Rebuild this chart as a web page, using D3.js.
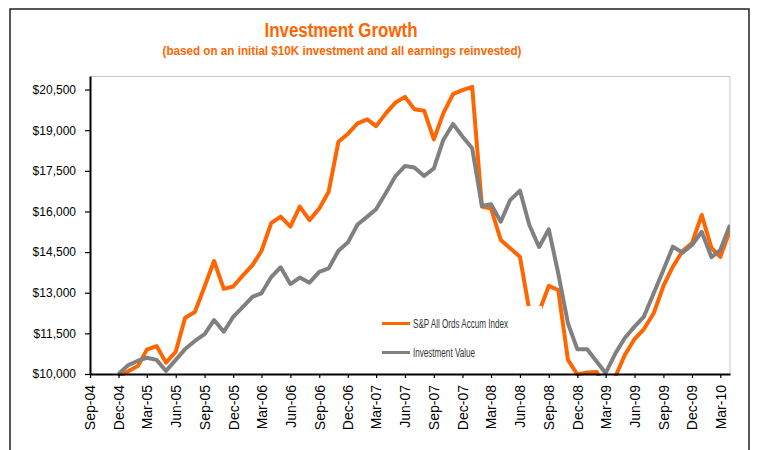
<!DOCTYPE html>
<html>
<head>
<meta charset="utf-8">
<script src="https://cdn.jsdelivr.net/npm/d3@7"></script>
<style>
  body { margin: 0; background: #fff; }
  svg { display: block; }
</style>
</head>
<body>
<svg id="chart" width="760" height="450"></svg>
<script>
// Monthly values, Dec-04 .. Apr-10
const firstMonth = "Dec-04";

const spAccum = [
  9900, 10100, 10300, 10900, 11030, 10420, 10820, 12080, 12290, 13230, 14170, 13140,
  13230, 13640, 14030, 14540, 15570, 15810, 15440, 16180, 15680, 16110, 16730, 18570,
  18860, 19250, 19400, 19150, 19620, 20010, 20230, 19770, 19720, 18660, 19620, 20330,
  20480, 20600, 16180, 16110, 14950, 14640, 14330, 12350, 12300, 13250, 13100, 10520,
  9980, 10060, 10070, 9400, 9900, 10700, 11290, 11660, 12240, 13250, 13960, 14540,
  14830, 15870, 14650, 14320, 15310
];

const investValue = [
  10000, 10330, 10490, 10600, 10520, 10110, 10520, 10920, 11220, 11470, 11990, 11560,
  12110, 12480, 12860, 12980, 13580, 13940, 13320, 13560, 13370, 13770, 13900, 14550,
  14850, 15520, 15810, 16080, 16680, 17290, 17680, 17620, 17310, 17590, 18640, 19230,
  18770, 18330, 16200, 16270, 15620, 16420, 16770, 15500, 14690, 15340, 13720, 11870,
  10910, 10910, 10450, 10030, 10760, 11330, 11750, 12120, 12980, 13840, 14700, 14480,
  14760, 15250, 14310, 14580, 15500
];

const seriesNames = ["S&P All Ords Accum Index", "Investment Value"];
const seriesColours = ["#ff6600", "#808080"];

const xTickLabels = [
  "Sep-04", "Dec-04", "Mar-05", "Jun-05", "Sep-05", "Dec-05", "Mar-06", "Jun-06",
  "Sep-06", "Dec-06", "Mar-07", "Jun-07", "Sep-07", "Dec-07", "Mar-08", "Jun-08",
  "Sep-08", "Dec-08", "Mar-09", "Jun-09", "Sep-09", "Dec-09", "Mar-10"
];
const xDomainLabels = ["Sep-04", "Apr-10"];

const yTicks = [10000, 11500, 13000, 14500, 16000, 17500, 19000, 20500];
const yDomain = [10000, 21000];

// Narrow look: no condensed font installed, so squeeze regular Arial-like text
const narrowFont = "'Liberation Sans', Arial, sans-serif";

class growthChart {
  constructor(_config) {
    this.config = {
      parentElement: _config.parentElement,
      containerWidth: _config.containerWidth || 760,
      containerHeight: _config.containerHeight || 450,
      margin: _config.margin || { top: 76, bottom: 76, right: 30, left: 90 }
    }
  }

  initVis() {
    let vis = this;
    const parseMonth = d3.timeParse("%b-%y");

    vis.width = vis.config.containerWidth - vis.config.margin.left - vis.config.margin.right;
    vis.height = vis.config.containerHeight - vis.config.margin.top - vis.config.margin.bottom;

    vis.svg = d3.select(vis.config.parentElement);

    // Outer chart frame
    vis.svg.append("rect")
      .attr("x", 10).attr("y", 9)
      .attr("width", 739).attr("height", 470)
      .attr("fill", "#fff")
      .attr("stroke", "#222")
      .attr("stroke-width", 1.5);

    // Titles
    vis.svg.append("text")
      .attr("x", 341).attr("y", 36.5)
      .attr("text-anchor", "middle")
      .attr("font-family", narrowFont)
      .attr("font-weight", "bold")
      .attr("font-size", 21)
      .attr("textLength", 153)
      .attr("lengthAdjust", "spacingAndGlyphs")
      .attr("fill", "#ff6600")
      .text("Investment Growth");

    vis.svg.append("text")
      .attr("x", 342).attr("y", 55)
      .attr("text-anchor", "middle")
      .attr("font-family", narrowFont)
      .attr("font-weight", "bold")
      .attr("font-size", 13.5)
      .attr("textLength", 359)
      .attr("lengthAdjust", "spacingAndGlyphs")
      .attr("fill", "#ff6600")
      .text("(based on an initial $10K investment and all earnings reinvested)");

    vis.chart = vis.svg.append("g")
      .attr("transform", `translate(${vis.config.margin.left},${vis.config.margin.top})`);

    // Plot area border (top and right in light grey)
    vis.chart.append("path")
      .attr("d", `M0,0.5H${vis.width}V${vis.height}`)
      .attr("fill", "none")
      .attr("stroke", "#c8c8c8")
      .attr("stroke-width", 1);

    vis.xScale = d3.scaleTime()
      .domain(xDomainLabels.map(parseMonth))
      .range([0, vis.width]);

    vis.yScale = d3.scaleLinear()
      .domain(yDomain)
      .range([vis.height, 0]);

    // Dates for each data point
    vis.dates = d3.timeMonth.range(parseMonth(firstMonth), d3.timeMonth.offset(parseMonth(firstMonth), spAccum.length));
    vis.series = [spAccum, investValue].map((values, i) => ({
      name: seriesNames[i],
      colour: seriesColours[i],
      textLength: i === 0 ? 95 : 62,
      values: values.map((v, j) => ({ date: vis.dates[j], value: v }))
    }));

    vis.chart.append("clipPath")
      .attr("id", "plotClip")
      .append("rect")
      .attr("x", 0).attr("y", 0)
      .attr("width", vis.width).attr("height", vis.height + 2);

    vis.line = d3.line()
      .x(d => vis.xScale(d.date))
      .y(d => vis.yScale(d.value));

    vis.chart.append("g")
      .attr("clip-path", "url(#plotClip)")
      .selectAll("path.line")
      .data(vis.series)
      .join("path")
        .attr("class", "line")
        .attr("fill", "none")
        .attr("stroke", d => d.colour)
        .attr("stroke-width", 4)
        .attr("stroke-linejoin", "round")
        .attr("d", d => vis.line(d.values));

    // Legend sits on a white box over the lines
    vis.legend = vis.svg.append("g");
    vis.legend.append("rect")
      .attr("x", 374).attr("y", 306)
      .attr("width", 168).attr("height", 62)
      .attr("fill", "#fff");

    const legendItem = vis.legend.selectAll("g.item")
      .data(vis.series)
      .join("g")
        .attr("class", "item")
        .attr("transform", (d, i) => `translate(382,${323.5 + i * 29})`);

    legendItem.append("line")
      .attr("x1", 0).attr("x2", 28)
      .attr("stroke", d => d.colour)
      .attr("stroke-width", 3);

    legendItem.append("text")
      .attr("x", 31).attr("dy", "0.35em")
      .attr("font-family", narrowFont)
      .attr("font-size", 12)
      .attr("textLength", d => d.textLength)
      .attr("lengthAdjust", "spacingAndGlyphs")
      .attr("fill", "#333")
      .text(d => d.name);

    // Axes
    vis.yAxis = d3.axisLeft(vis.yScale)
      .tickValues(yTicks)
      .tickSize(5)
      .tickSizeOuter(0)
      .tickPadding(9)
      .tickFormat(d => "$" + d3.format(",")(d));

    vis.xAxis = d3.axisBottom(vis.xScale)
      .tickValues(xTickLabels.map(parseMonth))
      .tickSize(4)
      .tickSizeOuter(0)
      .tickFormat(d3.timeFormat("%b-%y"));

    vis.yAxisG = vis.chart.append("g")
      .call(vis.yAxis);

    vis.xAxisG = vis.chart.append("g")
      .attr("transform", `translate(0,${vis.height})`)
      .call(vis.xAxis);

    vis.xAxisG.selectAll("text")
      .attr("transform", "rotate(-90)")
      .attr("text-anchor", "end")
      .attr("x", -11)
      .attr("y", 0)
      .attr("dy", "0.35em")
      .attr("font-size", 14);

    [vis.xAxisG, vis.yAxisG].forEach(g => {
      g.attr("font-family", "'Liberation Sans', Arial, sans-serif");
      g.select(".domain").attr("stroke", "#000").attr("stroke-width", 2);
      g.selectAll(".tick line").attr("stroke", "#000").attr("stroke-width", 1.2);
      g.selectAll(".tick text").attr("fill", "#000");
    });
    vis.yAxisG.selectAll("text").attr("font-size", 12);
  }
}

const chart = new growthChart({ parentElement: "#chart" });
chart.initVis();
</script>
</body>
</html>
